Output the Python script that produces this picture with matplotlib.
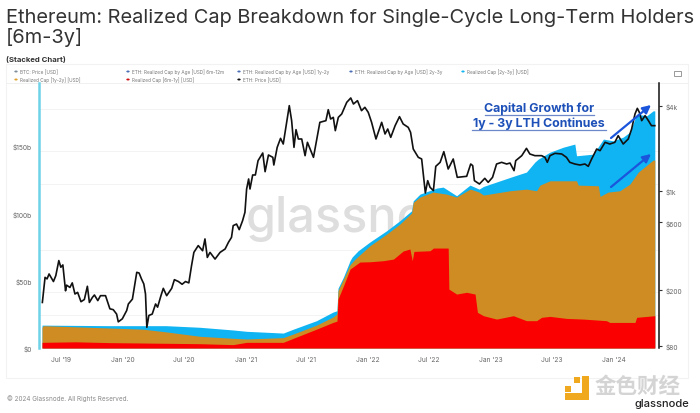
import numpy as np
import matplotlib
matplotlib.use("Agg")
import matplotlib.pyplot as plt
from matplotlib.patches import Polygon, Rectangle, Circle, FancyArrowPatch

W, H = 700, 414
start = np.datetime64("2019-05-06")

# ETH price, days since start / USD
price_days = [1, 9, 15, 21, 27, 34, 41, 50, 56, 62, 70, 73, 83, 90, 98, 106, 116, 126, 135, 141, 150, 156, 166, 174, 189,
              202, 212, 222, 227, 239, 252, 257, 269, 282, 289, 296, 303, 308, 312, 318, 328, 338, 344, 354, 361, 371,
              386, 394, 406, 417, 427, 437, 445, 452, 465, 478, 485, 492, 500, 515, 530, 545, 555, 564, 569, 579, 587,
              597, 604, 609, 615, 619, 627, 635, 643, 657, 664, 674, 687, 690, 700, 710, 718, 736, 743, 750, 756, 763,
              773, 783, 790, 808, 827, 845, 852, 859, 867, 873, 882, 892, 907, 919, 927, 939, 951, 961, 971, 981, 994,
              1011, 1021, 1029, 1038, 1051, 1064, 1075, 1090, 1097, 1105, 1120, 1130, 1141, 1148, 1155, 1165, 1172,
              1185, 1196, 1209, 1224, 1236, 1264, 1276, 1282, 1287, 1302, 1318, 1328, 1341, 1353, 1368, 1383, 1393,
              1405, 1410, 1428, 1442, 1452, 1467, 1487, 1497, 1504, 1512, 1527, 1547, 1561, 1571, 1586, 1601, 1616,
              1626, 1636, 1651, 1661, 1676, 1690, 1705, 1715, 1730, 1745, 1755, 1765, 1772, 1778, 1785, 1795, 1805,
              1814, 1824]
price = [162, 244, 238, 258, 244, 228, 251, 321, 288, 299, 196, 215, 207, 223, 186, 191, 164, 170, 211, 162, 176, 183, 167,
         181, 181, 146, 144, 134, 118, 124, 142, 158, 171, 265, 262, 238, 219, 186, 108, 131, 134, 158, 150, 181, 204,
         181, 204, 235, 228, 218, 228, 223, 295, 367, 410, 377, 457, 338, 367, 329, 367, 388, 433, 469, 568, 583, 532,
         616, 706, 1033, 1217, 1033, 1299, 1299, 1641, 1860, 1371, 1800, 1733, 1529, 2040, 2363, 2154, 4030, 3154,
         2040, 2723, 2338, 2338, 1781, 2214, 1733, 3069, 3154, 3774, 3240, 3330, 2679, 3330, 3517, 4254, 4568, 4140,
         4372, 3713, 3922, 3613, 3069, 2338, 3069, 2537, 2752, 2402, 2907, 3367, 2987, 2828, 2607, 1985, 1733, 1687,
         968, 1184, 1062, 1006, 1496, 1597, 1901, 1432, 1687, 1250, 1271, 1554, 1513, 1184, 1121, 1230, 1152, 1250,
         1554, 1597, 1554, 1579, 1394, 1641, 1781, 2007, 1830, 1781, 1781, 1733, 1597, 1781, 1850, 1830, 1733, 1597,
         1554, 1529, 1554, 1496, 1687, 1985, 1932, 2214, 2154, 2214, 2468, 2154, 2338, 2752, 3517, 3857, 3613, 3154,
         3422, 3154, 2907, 2907]

# stack outlines, cumulative realized cap in USD billions
red_days = [0, 100, 200, 470, 569, 609, 718, 748, 817, 866, 878, 881, 897, 917, 946, 976, 1016, 1046, 1075, 1095, 1102,
            1107, 1155, 1165, 1209, 1211, 1234, 1264, 1289, 1296, 1314, 1353, 1403, 1442, 1472, 1487, 1512, 1561, 1611,
            1680, 1690, 1765, 1770, 1824]
red_top = [4.2, 4.6, 4.0, 3.2, 2.5, 4.2, 4.2, 7.2, 14, 19, 20, 36.4, 46, 58.7, 63.9, 64.1, 64.9, 66.1, 72.1, 73.6, 64.9,
           71.8, 72.3, 74.3, 74.3, 43.8, 40.1, 41.4, 40.1, 26.5, 24, 21.5, 24, 20.3, 20.3, 22.8, 23.5, 22, 21.5, 20.3,
           19, 19, 22.8, 24]

orange_days = [0, 4, 300, 369, 470, 569, 609, 718, 748, 817, 866, 878, 881, 897, 917, 932, 976, 1026, 1065, 1100, 1105,
               1125, 1164, 1204, 1234, 1274, 1284, 1301, 1314, 1393, 1442, 1472, 1482, 1512, 1591, 1596, 1656, 1661,
               1685, 1720, 1750, 1775, 1819, 1824]
orange_top = [15.4, 16.6, 14, 12, 8.7, 7.2, 6.7, 7.7, 10.4, 17, 23, 25.3, 42.6, 51, 62, 66.1, 76, 84.7, 92.1, 100.3, 108.3,
              112.2, 115.9, 114.4, 112.2, 118.1, 117.4, 115.9, 113.7, 116.9, 118.1, 116.9, 121.1, 124.3, 124.3, 121.1,
              120.6, 112.7, 115.9, 116.9, 121.9, 130.8, 139.7, 139.7]

blue_days = [0, 4, 200, 369, 470, 569, 609, 718, 748, 817, 866, 878, 881, 897, 917, 923, 941, 976, 1026, 1065, 1100, 1105,
             1125, 1175, 1194, 1234, 1274, 1301, 1314, 1393, 1442, 1467, 1477, 1512, 1552, 1586, 1591, 1641, 1671, 1700,
             1730, 1750, 1770, 1800, 1819, 1824]
blue_top = [17, 17, 16.6, 16.6, 15.4, 13.4, 12.4, 11.1, 14, 20.3, 26.7, 27.7, 44.4, 52.6, 65, 67.6, 72.3, 78.8, 87.2, 94.6,
            102, 109.4, 114.4, 118.9, 119.6, 113.2, 121.1, 118.1, 120.1, 126.8, 130.8, 138.2, 140.4, 145.6, 149.3, 151.6,
            142.9, 144.1, 155.3, 154, 156.8, 160.5, 173.9, 172.6, 176.3, 176.3]

left_ticks = [0, 50, 100, 150]
left_labels = ["$0", "$50b", "$100b", "$150b"]
right_ticks = [80, 200, 600, 1000, 4000]
right_labels = ["$80", "$200", "$600", "$1k", "$4k"]
x_ticks = ["2019-07-01", "2020-01-01", "2020-07-01", "2021-01-01", "2021-07-01",
           "2022-01-01", "2022-07-01", "2023-01-01", "2023-07-01", "2024-01-01"]
x_labels = ["Jul '19", "Jan '20", "Jul '20", "Jan '21", "Jul '21", "Jan '22", "Jul '22", "Jan '23", "Jul '23", "Jan '24"]
grid_levels = [177.6, 146.4, 121.8, 72.8, 41.6, 24.5]


def dates(days):
    return start + np.array(days).astype("timedelta64[D]")


def fx(x):
    return x / W


def fy(y):
    return 1 - y / H


fig = plt.figure(figsize=(7, 4.14), dpi=100)
plt.rcParams["font.family"] = ["Inter", "DejaVu Sans"]

# card frame
fig.add_artist(Rectangle((fx(6), fy(379)), fx(682), (379 - 65) / H, transform=fig.transFigure,
                         fill=False, ec="#f2f2f2", lw=0.8))
fig.add_artist(plt.Line2D([fx(6), fx(688)], [fy(84), fy(84)], color="#f0f0f0", lw=0.7))

ax = fig.add_axes([fx(39), fy(349), (658.5 - 39) / W, (349 - 84) / H])
ax2 = ax.twinx()
ax.set_zorder(1)
ax2.set_zorder(2)
ax2.patch.set_visible(False)

for val in grid_levels:
    ax.axhline(val, color="#f3f3f3", lw=0.7, zorder=0)

ax.fill_between(dates(blue_days), 0, blue_top, color="#10b4f2", lw=0, zorder=3)
ax.fill_between(dates(orange_days), 0, orange_top, color="#cf8c22", lw=0, zorder=4)
ax.fill_between(dates(red_days), 0, red_top, color="#fb0000", lw=0, zorder=5)
ax2.plot(dates(price_days), price, color="#111111", lw=1.2, zorder=6)

ax.set_xlim(dates([-9])[0], dates([1835])[0])
ax.set_ylim(0, 197)
ax2.set_yscale("log")
ax2.set_ylim(77, 5834)

ax.set_yticks(left_ticks)
ax.set_yticklabels(left_labels)
ax.set_xticks([np.datetime64(d) for d in x_ticks])
ax.set_xticklabels(x_labels)
ax2.set_yticks(right_ticks)
ax2.set_yticklabels(right_labels)
ax2.minorticks_off()
ax.tick_params(axis="both", length=0, labelsize=4.8, labelcolor="#666666")
ax.tick_params(axis="x", pad=6)
ax.tick_params(axis="y", pad=5)
ax2.tick_params(axis="y", length=2, labelsize=4.8, labelcolor="#666666", color="#333333", pad=3)

for a in (ax, ax2):
    for s in ("top", "bottom", "left", "right"):
        a.spines[s].set_visible(False)
ax2.spines["right"].set_visible(True)
ax2.spines["right"].set_color("#111111")
ax2.spines["right"].set_linewidth(1.1)
ax2.spines["left"].set_visible(True)
ax2.spines["left"].set_color("#6fd3e8")
ax2.spines["left"].set_linewidth(1.8)

# watermark under the stack
ax.text(0.333, 0.49, "glassnode", transform=ax.transAxes, fontsize=35, color="#dedede",
        fontweight="medium", ha="left", va="center", zorder=1)

# title block
title_size = 14.4
fig.text(fx(6), fy(23), "Ethereum: Realized Cap Breakdown for Single-Cycle Long-Term Holders",
         fontsize=title_size, color="#333333", va="baseline")
fig.text(fx(6), fy(43), "[6m-3y]", fontsize=title_size, color="#333333", va="baseline")
fig.text(fx(6), fy(62), "(Stacked Chart)", fontsize=5.6, fontweight="bold", color="#333333", va="baseline")

# legend rows
legend_row1 = [("BTC: Price [USD]", 16, "#7f8c9a"), ("ETH: Realized Cap by Age [USD] 6m-12m", 128, "#4a6fb5"),
               ("ETH: Realized Cap by Age [USD] 1y-2y", 239, "#4a6fb5"), ("ETH: Realized Cap by Age [USD] 2y-3y", 351, "#4a6fb5"),
               ("Realized Cap [2y-3y] [USD]", 463, "#10b4f2")]
legend_row2 = [("Realized Cap [1y-2y] [USD]", 16, "#e0a030"), ("Realized Cap [6m-1y] [USD]", 128, "#d01010"),
               ("ETH: Price [USD]", 239, "#111111")]
for row, y in ((legend_row1, 72.5), (legend_row2, 80.5)):
    for label, x, col in row:
        fig.add_artist(Circle((fx(x), fy(y)), 0.0024, transform=fig.transFigure, color=col, lw=0))
        fig.text(fx(x + 4), fy(y), label, fontsize=3.4, color="#777777", va="center")

# camera icon
fig.add_artist(Rectangle((fx(674), fy(77)), 7 / W, 5 / H, transform=fig.transFigure, fill=False, ec="#999999", lw=0.7))

# callout
fig.text(fx(539), fy(108.5), "Capital Growth for", fontsize=8.9, fontweight="bold", color="#1d50b8", ha="center", va="center")
fig.text(fx(539), fy(123.5), "1y - 3y LTH Continues", fontsize=8.9, fontweight="bold", color="#1d50b8", ha="center", va="center")
for x0, x1, y in ((485, 594, 115.5), (472, 606, 130.5)):
    fig.add_artist(plt.Line2D([fx(x0), fx(x1)], [fy(y), fy(y)], color="#6d88c8", lw=0.9))

for p0, p1 in (((611, 139), (651, 106)), ((611, 188), (651, 155))):
    fig.add_artist(FancyArrowPatch((fx(p0[0]), fy(p0[1])), (fx(p1[0]), fy(p1[1])),
                                   transform=fig.transFigure, arrowstyle="-|>", mutation_scale=12,
                                   color="#1a55dc", lw=1.6, shrinkA=0, shrinkB=0, zorder=10))

# footer + logo
fig.text(fx(7), fy(399), "© 2024 Glassnode. All Rights Reserved.", fontsize=4.6, color="#8a8a8a", va="center")
fig.add_artist(Polygon([(fx(x), fy(y)) for x, y in [(582, 377), (589, 377), (589, 401), (565, 401), (565, 394), (582, 394)]],
                       transform=fig.transFigure, color="#f0a91e", lw=0))
fig.add_artist(Rectangle((fx(574), fy(384)), 6 / W, 6 / H, transform=fig.transFigure, color="#f0a91e", lw=0))
fig.add_artist(Rectangle((fx(565), fy(393)), 6 / W, 6 / H, transform=fig.transFigure, color="#f0a91e", lw=0))
fig.text(fx(595), fy(386), "金色财经", fontsize=15.5, color="#d4d4d4", va="center",
         family=["Noto Sans CJK SC", "DejaVu Sans"], fontweight="bold")
fig.text(fx(689), fy(404), "glassnode", fontsize=8, color="#222222", ha="right", va="center", fontweight="medium")

fig.savefig("out.png", dpi=100)
